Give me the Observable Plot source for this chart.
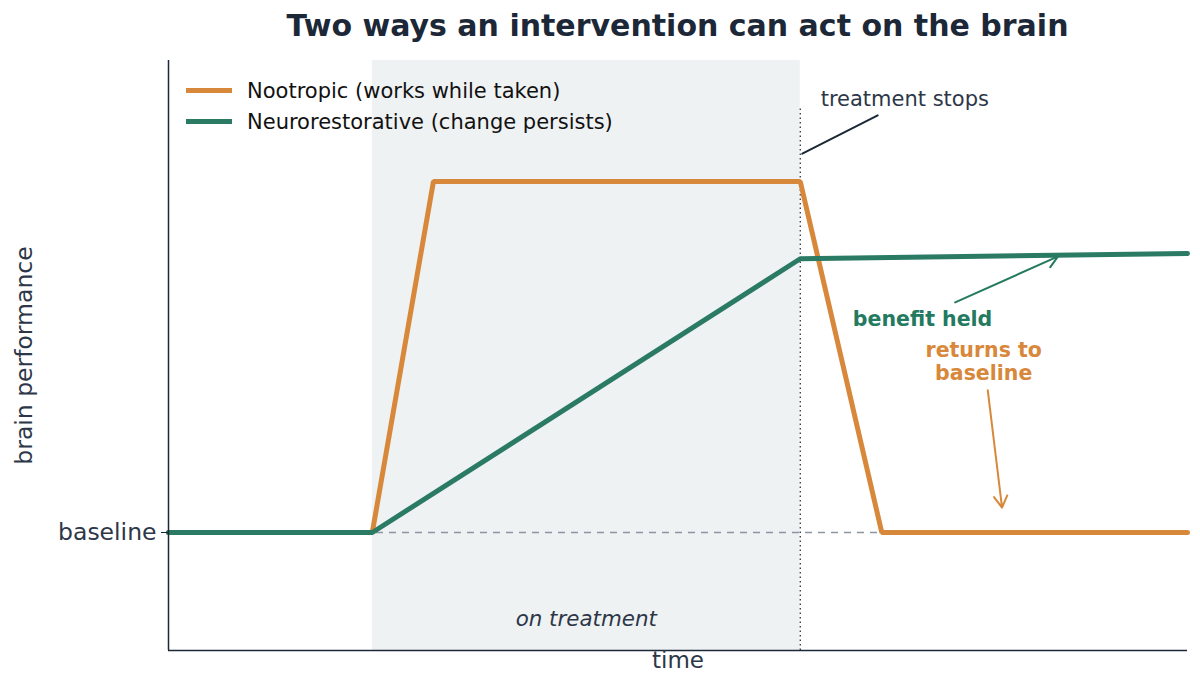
<!DOCTYPE html>
<html>
<head>
<meta charset="utf-8">
<script src="https://cdn.jsdelivr.net/npm/d3@7"></script>
<script src="https://cdn.jsdelivr.net/npm/@observablehq/plot@0.6"></script>
<style>
  body { margin: 0; background: white; font-family: "DejaVu Sans", sans-serif; }
  #wrap { position: relative; width: 1200px; height: 675px; overflow: hidden; }
  #title { position: absolute; left: 168px; width: 1019px; top: 7px; text-align: center;
           font-size: 30px; font-weight: bold; color: #1c2838; line-height: 38px; }
  #chart { position: absolute; left: 0; top: 52px; }
  #legend { position: absolute; left: 186px; top: 75px; font-size: 21px; color: #111; }
  .item { display: flex; align-items: center; height: 31px; }
  .sw { width: 46px; height: 5px; margin-right: 15px; }
</style>
</head>
<body>
<div id="wrap">
  <div id="title">Two ways an intervention can act on the brain</div>
  <div id="chart"></div>
  <div id="legend"></div>
</div>
<script>
// ---- data ----
const seriesNames = ["Nootropic (works while taken)", "Neurorestorative (change persists)"];
const seriesColors = ["#d8883a", "#2a7a64"];
const nootropicTime = [0, 20, 26, 62, 70, 100];
const nootropicValue = [2, 2, 7.95, 7.95, 2, 2];
const neuroTime = [0, 20, 62, 100];
const neuroValue = [2, 2, 6.64, 6.73];
const baselineValue = 2;
const treatmentStart = 20;
const treatmentStop = 62;
const yTickLabels = ["baseline"];

// annotations
const annoTexts = [
  {text: "treatment stops", x: 64, y: 9.36, color: "#2d3748", bold: false, anchor: "start", size: 21},
  {text: "benefit held", x: 74, y: 5.63, color: "#237a5f", bold: true, anchor: "middle", size: 20.5},
  {text: "returns to\nbaseline", x: 80, y: 4.9, color: "#d8883a", bold: true, anchor: "middle", size: 20.5}
];
const annoArrows = [
  {x1: 62.2, y1: 8.42, x2: 69.6, y2: 9.07, color: "#1c2838", head: 0},
  {x1: 77.2, y1: 5.9, x2: 87.3, y2: 6.68, color: "#237a5f", head: 10},
  {x1: 80.4, y1: 4.41, x2: 81.8, y2: 2.42, color: "#d8883a", head: 10}
];

const nootropic = nootropicTime.map((t, i) => ({t, v: nootropicValue[i]}));
const neuro = neuroTime.map((t, i) => ({t, v: neuroValue[i]}));

const textColor = "#2d3748";
const axisColor = "#1c2838";

const plot = Plot.plot({
  width: 1200, height: 623,
  marginLeft: 168, marginRight: 13, marginTop: 8, marginBottom: 25,
  x: {domain: [0, 100], axis: null},
  y: {domain: [0, 10], axis: null},
  style: {fontFamily: "DejaVu Sans", background: "white", overflow: "visible"},
  marks: [
    Plot.rect([{a: treatmentStart, b: treatmentStop}], {x1: "a", x2: "b", y1: 0, y2: 10, fill: "#eff2f3"}),
    Plot.ruleY([baselineValue], {stroke: "#8b95a5", strokeWidth: 1.3, strokeDasharray: "7,6"}),
    Plot.ruleX([treatmentStop], {y1: 0, y2: 9.2, stroke: "#2d3748", strokeWidth: 1.3, strokeDasharray: "1.5,3"}),
    Plot.text(["on treatment"], {x: (treatmentStart + treatmentStop) / 2, y: 0.53, fontSize: 21.4, fontStyle: "italic", fill: textColor}),
    Plot.line(nootropic, {x: "t", y: "v", stroke: seriesColors[0], strokeWidth: 5, strokeLinejoin: "miter"}),
    Plot.line(neuro, {x: "t", y: "v", stroke: seriesColors[1], strokeWidth: 5, strokeLinejoin: "miter"}),
    Plot.ruleX([0], {stroke: axisColor, strokeWidth: 1.5}),
    Plot.ruleY([0], {stroke: axisColor, strokeWidth: 1.5}),
    Plot.axisY([baselineValue], {tickFormat: (d, i) => yTickLabels[i], fontSize: 23.5, tickSize: 7, tickPadding: 5, stroke: axisColor, fill: textColor, label: null}),
    Plot.text(["brain performance"], {frameAnchor: "left", textAnchor: "middle", rotate: -90, dx: -144, fontSize: 23.5, fill: textColor}),
    Plot.text(["time"], {frameAnchor: "bottom", dy: 10, lineAnchor: "middle", fontSize: 23, fill: textColor}),
    ...annoArrows.map(a => Plot.arrow([a], {x1: "x1", y1: "y1", x2: "x2", y2: "y2", stroke: a.color, strokeWidth: 2, headLength: a.head, bend: 0})),
    ...annoTexts.map(a => Plot.text([a], {x: "x", y: "y", text: "text", fill: a.color, fontSize: a.size, fontWeight: a.bold ? "bold" : "normal", textAnchor: a.anchor, lineHeight: 1.1}))
  ]
});
document.getElementById("chart").appendChild(plot);

const legend = document.getElementById("legend");
seriesNames.forEach((n, i) => {
  const d = document.createElement("div");
  d.className = "item";
  d.innerHTML = `<span class="sw" style="background:${seriesColors[i]}"></span><span>${n}</span>`;
  legend.appendChild(d);
});
</script>
</body>
</html>
